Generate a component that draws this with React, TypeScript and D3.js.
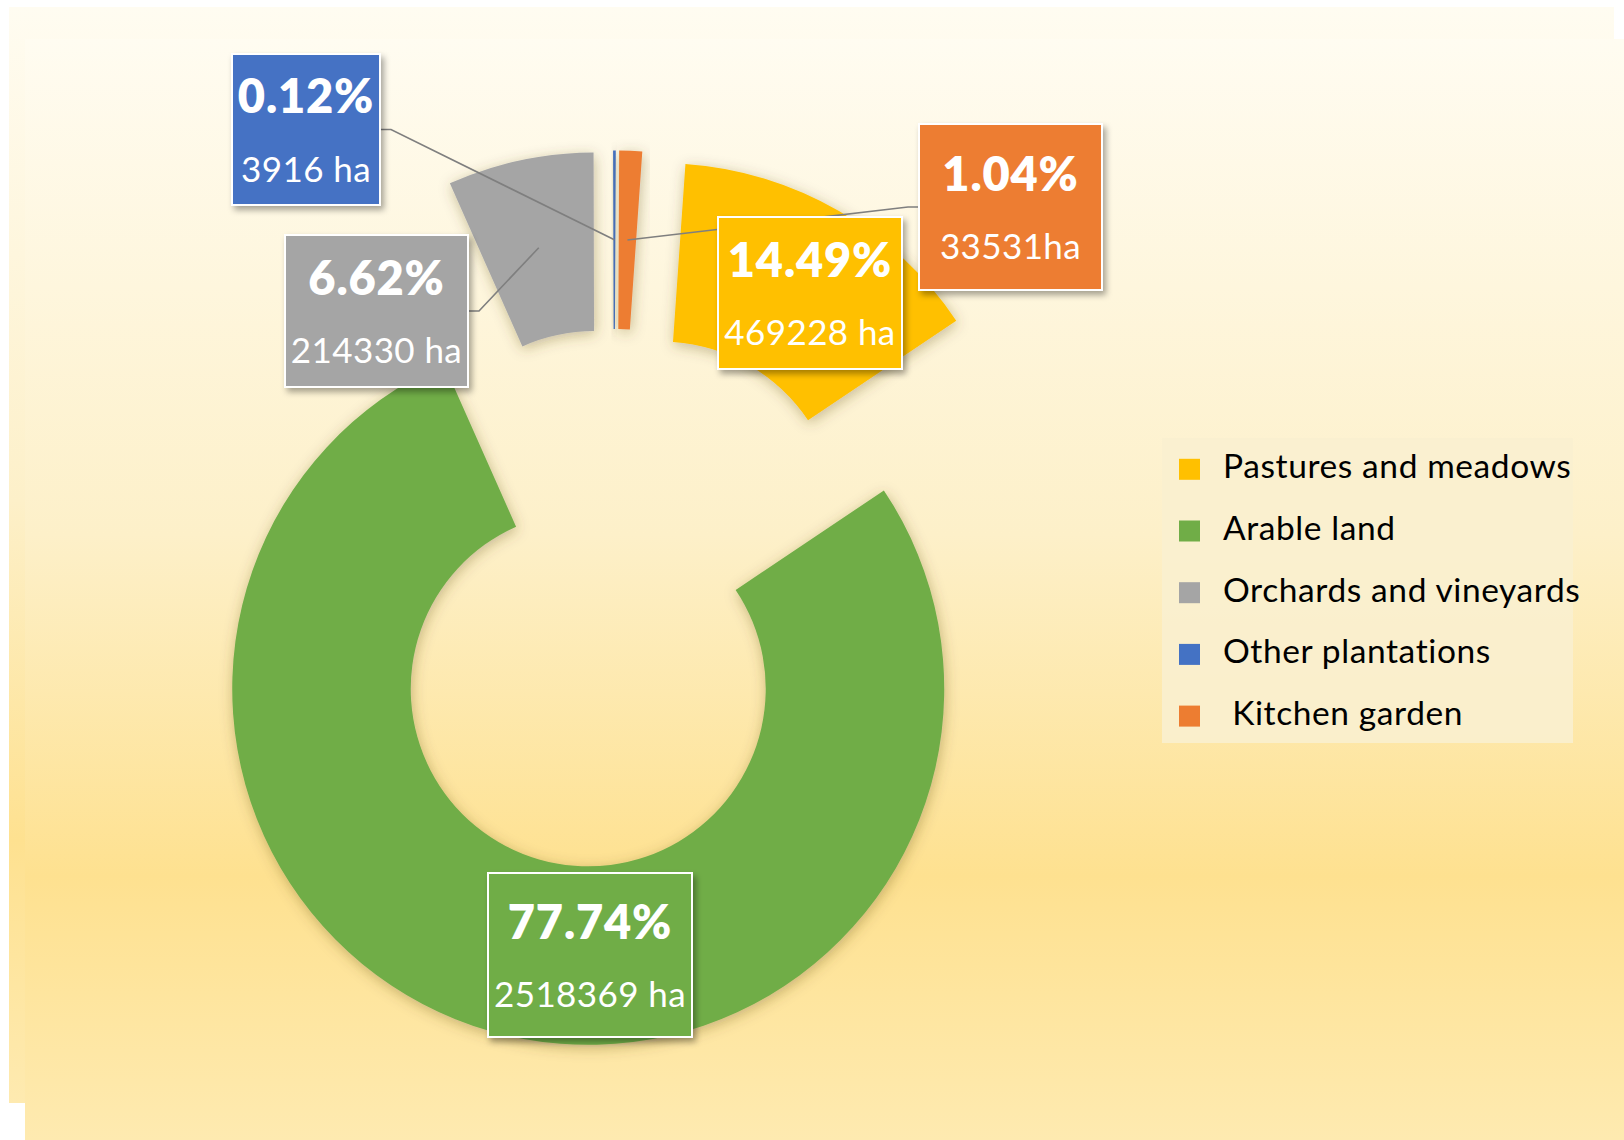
import React from "react";
import * as d3 from "d3";

const categories = [
  "Pastures and meadows",
  "Arable land",
  "Orchards and vineyards",
  "Other plantations",
  "Kitchen garden",
];
const areaHa = [469228, 2518369, 214330, 3916, 33531];
const percentLabels = ["14.49%", "77.74%", "6.62%", "0.12%", "1.04%"];
const haLabels = ["469228 ha", "2518369 ha", "214330 ha", "3916 ha", "33531ha"];
const legendLabels = [
  "Pastures and meadows",
  "Arable land",
  "Orchards and vineyards",
  "Other plantations",
  " Kitchen garden",
];
const colors = ["#FFC000", "#70AD47", "#A5A5A5", "#4472C4", "#ED7D31"];

// label boxes were placed by hand in the original, so keep them by hand
const labelBoxes = [
  { x: 718, y: 217, w: 184, h: 152, leader: "none" },
  { x: 488, y: 873, w: 204, h: 164, leader: "none" },
  { x: 285, y: 235, w: 183, h: 152, leader: "right" },
  { x: 232, y: 54, w: 148, h: 151, leader: "right" },
  { x: 919, y: 124, w: 183, h: 166, leader: "left" },
];

const W = 1624;
const H = 1140;
const cx = 614;
const cy = 599.5;
const outerR = 356;
const innerR = 177.5;
const explode = 93;
const firstAngle = (4 * Math.PI) / 180;
const font = "Lato, 'Open Sans', sans-serif";

export default function App() {
  const pie = d3
    .pie<number>()
    .sort(null)
    .startAngle(firstAngle)
    .endAngle(firstAngle + 2 * Math.PI)(areaHa);

  const arc = d3
    .arc<d3.PieArcDatum<number>>()
    .innerRadius(innerR)
    .outerRadius(outerR);

  const shift = (d: d3.PieArcDatum<number>) => {
    const mid = (d.startAngle + d.endAngle) / 2;
    return [explode * Math.sin(mid), -explode * Math.cos(mid)];
  };

  return (
    <svg
      width={W}
      height={H}
      style={{ position: "absolute", left: 0, top: 0 }}
    >
      <defs>
        <linearGradient id="bg" x1="0" y1="0" x2="0" y2="1">
          <stop offset="0" stopColor="#fffcf1" />
          <stop offset="0.45" stopColor="#fdf0c9" />
          <stop offset="0.76" stopColor="#fee190" />
          <stop offset="1" stopColor="#feeab0" />
        </linearGradient>
        <filter id="sliceShadow" x="-30%" y="-30%" width="160%" height="160%">
          <feDropShadow
            dx="1"
            dy="3"
            stdDeviation="7"
            floodColor="#5a4a20"
            floodOpacity="0.35"
          />
        </filter>
        <filter id="boxShadow" x="-20%" y="-20%" width="140%" height="140%">
          <feDropShadow
            dx="3"
            dy="4"
            stdDeviation="3"
            floodColor="#000"
            floodOpacity="0.35"
          />
        </filter>
      </defs>

      <rect x={9} y={7} width={1605} height={1096} fill="url(#bg)" />
      <rect x={25} y={39} width={1599} height={1101} fill="url(#bg)" />

      <g>
        {pie.map((d, i) => {
          const [dx, dy] = shift(d);
          return (
            <path
              key={categories[i]}
              d={arc(d) ?? ""}
              transform={`translate(${cx + dx},${cy + dy})`}
              fill={colors[i]}
              filter="url(#sliceShadow)"
            />
          );
        })}
      </g>

      <g fill="none" stroke="#7f7f7f" strokeWidth={1.6}>
        {pie.map((d, i) => {
          const box = labelBoxes[i];
          if (box.leader === "none") return null;
          const [dx, dy] = shift(d);
          const [mx, my] = arc.centroid(d);
          const tx = cx + dx + mx;
          const ty = cy + dy + my;
          const by = box.y + box.h / 2;
          const bx = box.leader === "right" ? box.x + box.w : box.x;
          const kx = box.leader === "right" ? bx + 11 : bx - 11;
          return (
            <polyline
              key={categories[i]}
              points={`${bx},${by} ${kx},${by} ${tx},${ty}`}
            />
          );
        })}
      </g>

      <g fontFamily={font} fill="#fff" textAnchor="middle">
        {labelBoxes.map((b, i) => {
          const mid = b.y + b.h / 2;
          return (
            <g key={categories[i]}>
              <rect
                x={b.x}
                y={b.y}
                width={b.w}
                height={b.h}
                fill={colors[i]}
                stroke="#fff"
                strokeWidth={2}
                filter="url(#boxShadow)"
              />
              <text
                x={b.x + b.w / 2}
                y={mid - 16.5}
                fontSize={47}
                fontWeight={800}
                letterSpacing={0.8}
              >
                {percentLabels[i]}
              </text>
              <text
                x={b.x + b.w / 2}
                y={mid + 52}
                fontSize={35}
                letterSpacing={0.4}
              >
                {haLabels[i]}
              </text>
            </g>
          );
        })}
      </g>

      <g fontFamily={font}>
        <rect
          x={1162}
          y={438}
          width={411}
          height={305}
          fill="#f9efcf"
          opacity={0.9}
        />
        {legendLabels.map((label, i) => {
          const base = 478.3 + i * 61.7;
          return (
            <g key={categories[i]}>
              <rect
                x={1179}
                y={base - 19.5}
                width={21}
                height={21}
                fill={colors[i]}
              />
              <text
                x={1223}
                y={base}
                fontSize={33.5}
                letterSpacing={0.6}
                fill="#000"
                style={{ whiteSpace: "pre" }}
              >
                {label}
              </text>
            </g>
          );
        })}
      </g>
    </svg>
  );
}
